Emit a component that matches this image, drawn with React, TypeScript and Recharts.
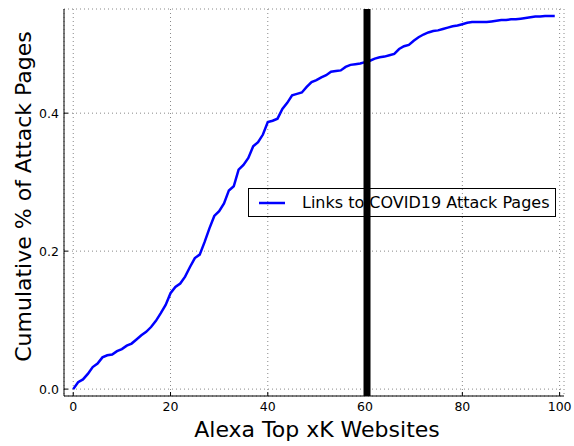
import React from "react"
import { LineChart, Line, XAxis, YAxis, CartesianGrid, ReferenceLine, Legend } from "recharts"

// x = Alexa rank bucket (thousands), share = cumulative fraction of attack pages
const sites = [
  0, 1, 2, 3, 4, 5, 6, 7, 8, 9, 10, 11, 12, 13, 14, 15, 16, 17, 18, 19,
  20, 21, 22, 23, 24, 25, 26, 27, 28, 29, 30, 31, 32, 33, 34, 35, 36, 37, 38, 39,
  40, 41, 42, 43, 44, 45, 46, 47, 48, 49, 50, 51, 52, 53, 54, 55, 56, 57, 58, 59,
  60, 61, 62, 63, 64, 65, 66, 67, 68, 69, 70, 71, 72, 73, 74, 75, 76, 77, 78, 79,
  80, 81, 82, 83, 84, 85, 86, 87, 88, 89, 90, 91, 92, 93, 94, 95, 96, 97, 98, 99,
]
const share = [
  0.0, 0.01, 0.014, 0.022, 0.032, 0.037, 0.046, 0.049, 0.05, 0.055,
  0.058, 0.063, 0.066, 0.072, 0.078, 0.083, 0.09, 0.099, 0.11, 0.122,
  0.139, 0.148, 0.153, 0.163, 0.177, 0.19, 0.195, 0.213, 0.233, 0.251,
  0.258, 0.269, 0.288, 0.294, 0.318, 0.325, 0.335, 0.352, 0.358, 0.369,
  0.387, 0.389, 0.392, 0.406, 0.415, 0.426, 0.428, 0.43, 0.438, 0.445,
  0.448, 0.452, 0.455, 0.46, 0.461, 0.462, 0.467, 0.47, 0.471, 0.472,
  0.474, 0.476, 0.479, 0.481, 0.482, 0.484, 0.486, 0.493, 0.497, 0.499,
  0.505, 0.51, 0.514, 0.517, 0.519, 0.52, 0.522, 0.524, 0.526, 0.527,
  0.529, 0.531, 0.532, 0.532, 0.532, 0.532, 0.533, 0.534, 0.535, 0.535,
  0.536, 0.536, 0.537, 0.538, 0.539, 0.54, 0.54, 0.541, 0.541, 0.541,
]
const xTicks = [0, 20, 40, 60, 80, 100]
const yTicks = [0, 0.2, 0.4]
const cutoff = 60.4
const seriesName = "Links to COVID19 Attack Pages"

const data = sites.map((x, i) => ({ x, share: share[i] }))

const FONT = "'DejaVu Sans', sans-serif"

function LegendBox() {
  return (
    <div
      style={{
        boxSizing: "border-box",
        width: 308,
        height: 29,
        border: "1px solid #000",
        display: "flex",
        alignItems: "center",
        fontFamily: FONT,
        fontSize: 16,
        color: "#000",
      }}
    >
      <svg width={26} height={4} style={{ marginLeft: 10, marginRight: 17 }}>
        <line x1={0} y1={2} x2={26} y2={2} stroke="#0000ff" strokeWidth={2.5} />
      </svg>
      <span style={{ whiteSpace: "nowrap" }}>{seriesName}</span>
    </div>
  )
}

export default function App() {
  return (
    <div style={{ position: "absolute", left: 0, top: 0, width: 574, height: 446, background: "#fff" }}>
      <LineChart width={574} height={446} data={data} margin={{ top: 9, right: 10, left: 0, bottom: 0 }}>
        <CartesianGrid stroke="#888" strokeDasharray="1 3" />
        <XAxis
          dataKey="x"
          type="number"
          domain={[-1.9, 100.9]}
          allowDataOverflow
          ticks={xTicks}
          height={50}
          tickSize={-4}
          tickMargin={10}
          stroke="#000"
          tick={{ fill: "#000", fontSize: 12.5, fontFamily: FONT }}
          label={{
            value: "Alexa Top xK Websites",
            position: "insideBottom",
            offset: 9,
            dx: 3,
            style: { fill: "#000", fontSize: 22, fontFamily: FONT },
          }}
        />
        <XAxis
          xAxisId="top"
          orientation="top"
          dataKey="x"
          type="number"
          domain={[-1.9, 100.9]}
          allowDataOverflow
          ticks={xTicks}
          height={0}
          tickSize={-4}
          tick={false}
          stroke="#000"
        />
        <YAxis
          type="number"
          domain={[-0.01, 0.551]}
          allowDataOverflow
          ticks={yTicks}
          width={64}
          tickSize={-4}
          tickMargin={9}
          stroke="#000"
          tickFormatter={(v: number) => v.toFixed(1)}
          tick={{ fill: "#000", fontSize: 12.5, fontFamily: FONT }}
          label={{
            value: "Cumulative % of Attack Pages",
            angle: -90,
            position: "insideLeft",
            offset: 23,
            dy: -6,
            style: { fill: "#000", fontSize: 22, fontFamily: FONT, textAnchor: "middle" },
          }}
        />
        <YAxis
          yAxisId="right"
          orientation="right"
          type="number"
          dataKey="share"
          domain={[-0.01, 0.551]}
          allowDataOverflow
          ticks={yTicks}
          width={0}
          tickSize={-4}
          tick={false}
          stroke="#000"
        />
        <Legend
          layout="vertical"
          align="center"
          verticalAlign="middle"
          wrapperStyle={{ left: 248, top: 188, width: 308 }}
          content={() => <LegendBox />}
        />
        <Line
          type="linear"
          dataKey="share"
          name={seriesName}
          stroke="#0000ff"
          strokeWidth={2.5}
          dot={false}
          activeDot={false}
          isAnimationActive={false}
        />
        <ReferenceLine x={cutoff} stroke="#000" strokeWidth={7} />
      </LineChart>
    </div>
  )
}
